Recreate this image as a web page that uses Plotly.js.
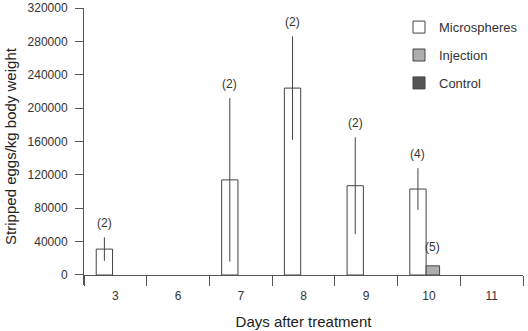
<!DOCTYPE html>
<html>
<head>
<meta charset="utf-8">
<script src="https://cdn.plot.ly/plotly-3.0.1.min.js"></script>
<style>html,body{margin:0;padding:0;background:#fff;}#chart{width:528px;height:331px;}</style>
</head>
<body>
<div id="chart"></div>
<script>
// ---- data ----
var days = ['3', '6', '7', '8', '9', '10', '11'];
var microspheres = [31000, null, 114000, 224000, 107000, 103000, null];
var microspheresErr = [14000, null, 98000, 62000, 58000, 25000, null];
var microspheresN = ['(2)', null, '(2)', '(2)', '(2)', '(4)', null];
var injection = [null, null, null, null, null, 11000, null];
var injectionErr = [null, null, null, null, null, 0, null];
var injectionN = [null, null, null, null, null, '(5)', null];
var control = [null, null, null, null, null, null, null];

// ---- styling ----
var font = 'Liberation Sans, Arial, sans-serif';
var ink = '#333';
var axisCol = '#555';
var yMin = -12000, yMax = 320000;
var plotL = 84, plotR = 5, plotT = 8, plotB = 46;

var micro = {off: -0.305, w: 0.26};
var inj = {off: -0.045, w: 0.215};
var ctl = {off: 0.17, w: 0.215};

function barTrace(name, y, err, fill, geo, group) {
  return {
    type: 'bar', name: name, x: days, y: y,
    offset: geo.off, width: geo.w,
    legendgroup: group,
    marker: {color: fill, line: {color: '#444', width: 1}},
    error_y: {type: 'data', array: err, visible: true, color: '#444', thickness: 1, width: 0},
    hoverinfo: 'none'
  };
}

var traces = [
  barTrace('Microspheres', microspheres, microspheresErr, '#ffffff', micro, 'a'),
  barTrace('Injection', injection, injectionErr, '#adadad', inj, 'b'),
  barTrace('Control', control, control, '#555555', ctl, 'c')
];

// annotations placed at (category index + bar centre offset) on the category axis
var annotations = [];
function addLabels(vals, errs, labels, geo, extra) {
  for (var i = 0; i < days.length; i++) {
    if (labels[i] == null) continue;
    annotations.push({
      x: i + geo.off + geo.w / 2, y: vals[i] + (errs[i] || 0), xref: 'x', yref: 'y',
      text: labels[i], showarrow: false, yanchor: 'bottom',
      yshift: extra,
      font: {family: font, size: 12, color: ink}
    });
  }
}
addLabels(microspheres, microspheresErr, microspheresN, micro, 5);
addLabels(injection, injectionErr, injectionN, inj, 10);

var layout = {
  width: 528, height: 331,
  margin: {l: plotL, r: plotR, t: plotT, b: plotB},
  paper_bgcolor: '#fff', plot_bgcolor: '#fff',
  font: {family: font, size: 12, color: ink},
  barmode: 'group',
  showlegend: true,
  legend: {
    x: 1, y: 0.985, xanchor: 'right', yanchor: 'top',
    font: {family: font, size: 13, color: ink},
    tracegroupgap: 8, bgcolor: 'rgba(0,0,0,0)', traceorder: 'grouped'
  },
  xaxis: {
    type: 'category', range: [-0.5, days.length - 0.5],
    tickson: 'boundaries', ticks: 'outside', ticklen: 10, tickcolor: axisCol, tickwidth: 1,
    ticklabelstandoff: 10,
    showline: true, linecolor: axisCol, linewidth: 1,
    anchor: 'free', position: (0 - yMin) / (yMax - yMin),
    showgrid: false, zeroline: false,
    tickfont: {family: font, size: 12, color: ink},
    title: {text: 'Days after treatment', font: {family: font, size: 15, color: '#222'}, standoff: 14}
  },
  yaxis: {
    range: [yMin, yMax], tick0: 0, dtick: 40000, tickformat: 'd',
    ticks: 'outside', ticklen: 8, tickcolor: axisCol, tickwidth: 1,
    ticklabelstandoff: 5,
    showline: true, linecolor: axisCol, linewidth: 1,
    showgrid: false, zeroline: false,
    tickfont: {family: font, size: 12, color: ink},
    title: {text: 'Stripped eggs/kg body weight', font: {family: font, size: 15, color: '#222'}, standoff: 7}
  },
  annotations: annotations
};

Plotly.newPlot('chart', traces, layout, {staticPlot: true, displayModeBar: false});
</script>
</body>
</html>
